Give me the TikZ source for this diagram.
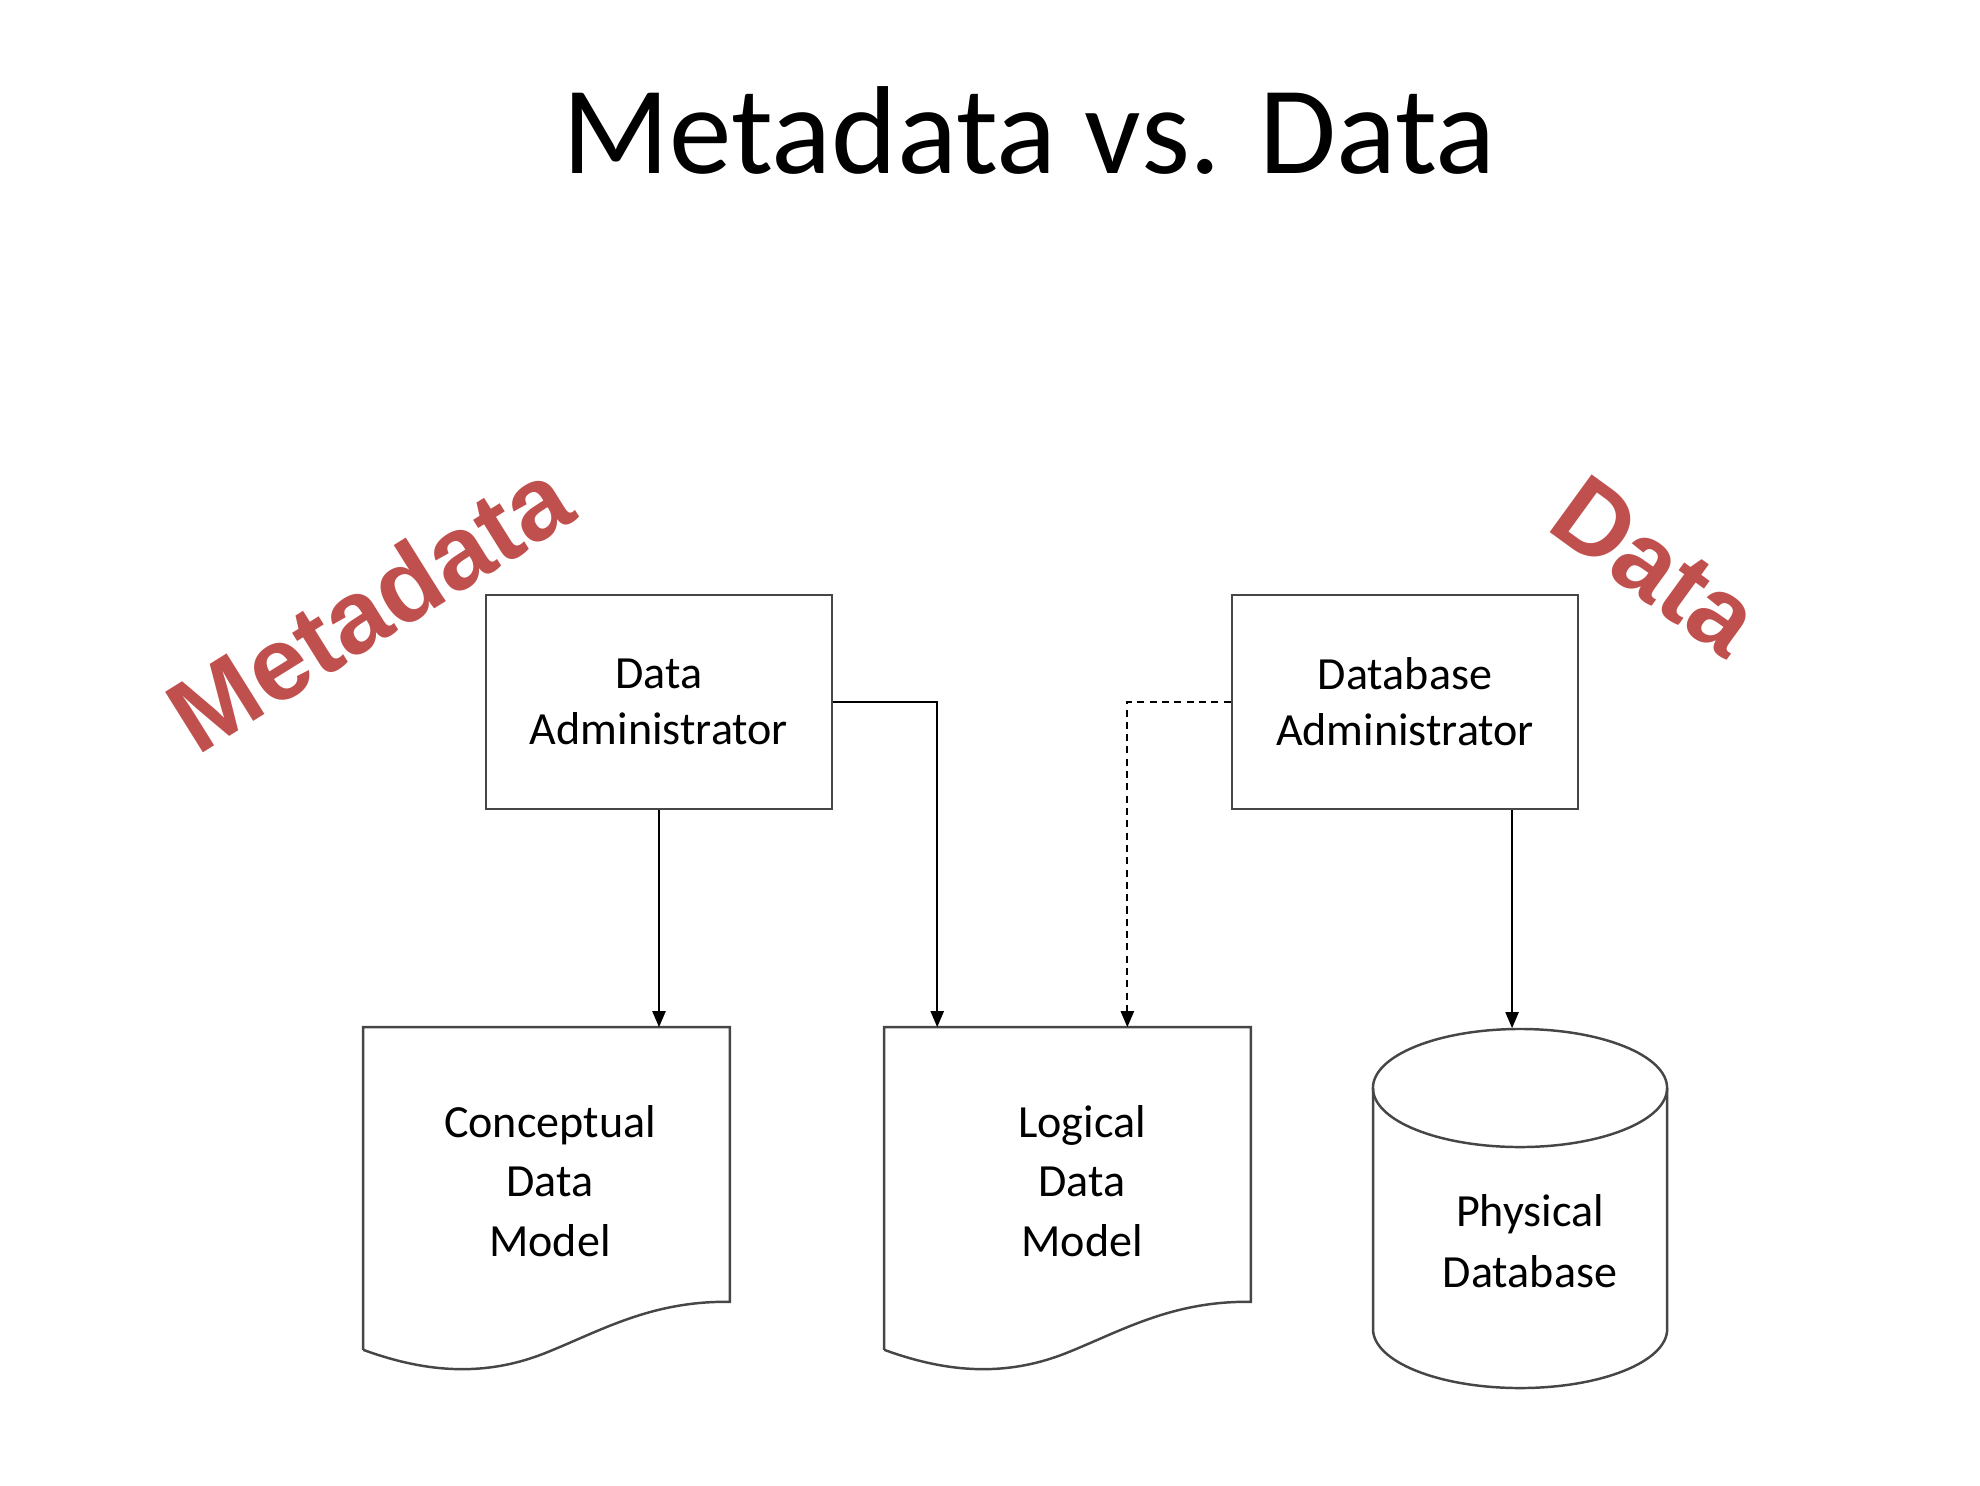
\documentclass[tikz,border=0pt]{standalone}
\usepackage{fontspec}
\setmainfont{Carlito}
\newfontfamily\redfont{Liberation Sans}
\usetikzlibrary{arrows.meta,positioning}
\definecolor{metared}{RGB}{192,80,77}
\definecolor{edgegray}{RGB}{70,70,70}

\tikzset{
  adminbox/.style={draw=edgegray,line width=0.75pt,minimum width=3.46cm,minimum height=2.14cm,
    align=center,font=\fontsize{13.1}{16}\selectfont},
  docbox/.style={minimum width=3.65cm,minimum height=3.21cm,inner sep=0pt},
  doctext/.style={align=center,font=\fontsize{13.1}{17}\selectfont},
  shapeline/.style={draw=edgegray,line width=0.7pt},
  flow/.style={-{Triangle[length=1.6mm,width=1.3mm]},line width=0.6pt},
  redword/.style={text=metared,font=\redfont\bfseries\fontsize{29.5}{31}\selectfont}
}

\begin{document}
\begin{tikzpicture}[x=0.01cm,y=-0.01cm]
  \useasboundingbox (0,0) rectangle (1980,1485);
  \node[anchor=base,font=\fontsize{35.6}{40}\selectfont] (title) at (1029,173) {Metadata vs. Data};
%top boxes
  \node[adminbox] (dadmin) at (659,702) {Data\\Administrator};
  \node[adminbox] (dbadmin) at (1405,702) {Database\\Administrator};
%documents
  \node[docbox] (cdm) at (546.5,1188.5) {};
  \node[docbox] (ldm) at (1067.5,1188.5) {};
  \foreach \d in {cdm,ldm}{
    \draw[shapeline] (\d.south west) -- (\d.north west) -- (\d.north east) -- ([shift={(0,-48)}]\d.south east)
      .. controls ([shift={(-79,-49)}]\d.south east) and ([shift={(-129,-19)}]\d.south east) .. ([shift={(-184,3)}]\d.south east)
      .. controls ([shift={(-249,29)}]\d.south east) and ([shift={(-309,21)}]\d.south east) .. (\d.south west);
  }
  \node[doctext] (cdmtext) at (550,1181) {Conceptual\\Data\\Model};
  \node[doctext] (ldmtext) at (1082,1181) {Logical\\Data\\Model};
%database
  \node[docbox,minimum width=2.94cm,minimum height=3.59cm] (pdb) at (1520,1208.5) {};
  \draw[shapeline] (1520,1088) ellipse[x radius=1.47cm,y radius=0.59cm];
  \draw[shapeline] (1373,1088) -- (1373,1329) arc[start angle=180,end angle=360,x radius=1.47cm,y radius=0.59cm] -- (1667,1088);
  \node[doctext,font=\fontsize{13.1}{17.5}\selectfont] (pdbtext) at (1530,1241) {Physical\\Database};
%connectors
  \draw[flow] (dadmin.south) -- (dadmin.south |- cdm.north);
  \draw[flow] (dadmin.east) -| ([xshift=0.53cm]ldm.north west);
  \draw[flow,dash pattern=on 2pt off 1.5pt] (dbadmin.west) -| ([xshift=2.43cm]ldm.north west);
  \draw[flow] ([xshift=1.07cm]dbadmin.south) -- ([xshift=1.07cm]dbadmin.south |- pdb.north);
%red words
  \node[redword,rotate=32] (metaword) at (369,606) {Metadata};
  \node[redword,rotate=-36] (dataword) at (1656,566) {Data};
\end{tikzpicture}
\end{document}
